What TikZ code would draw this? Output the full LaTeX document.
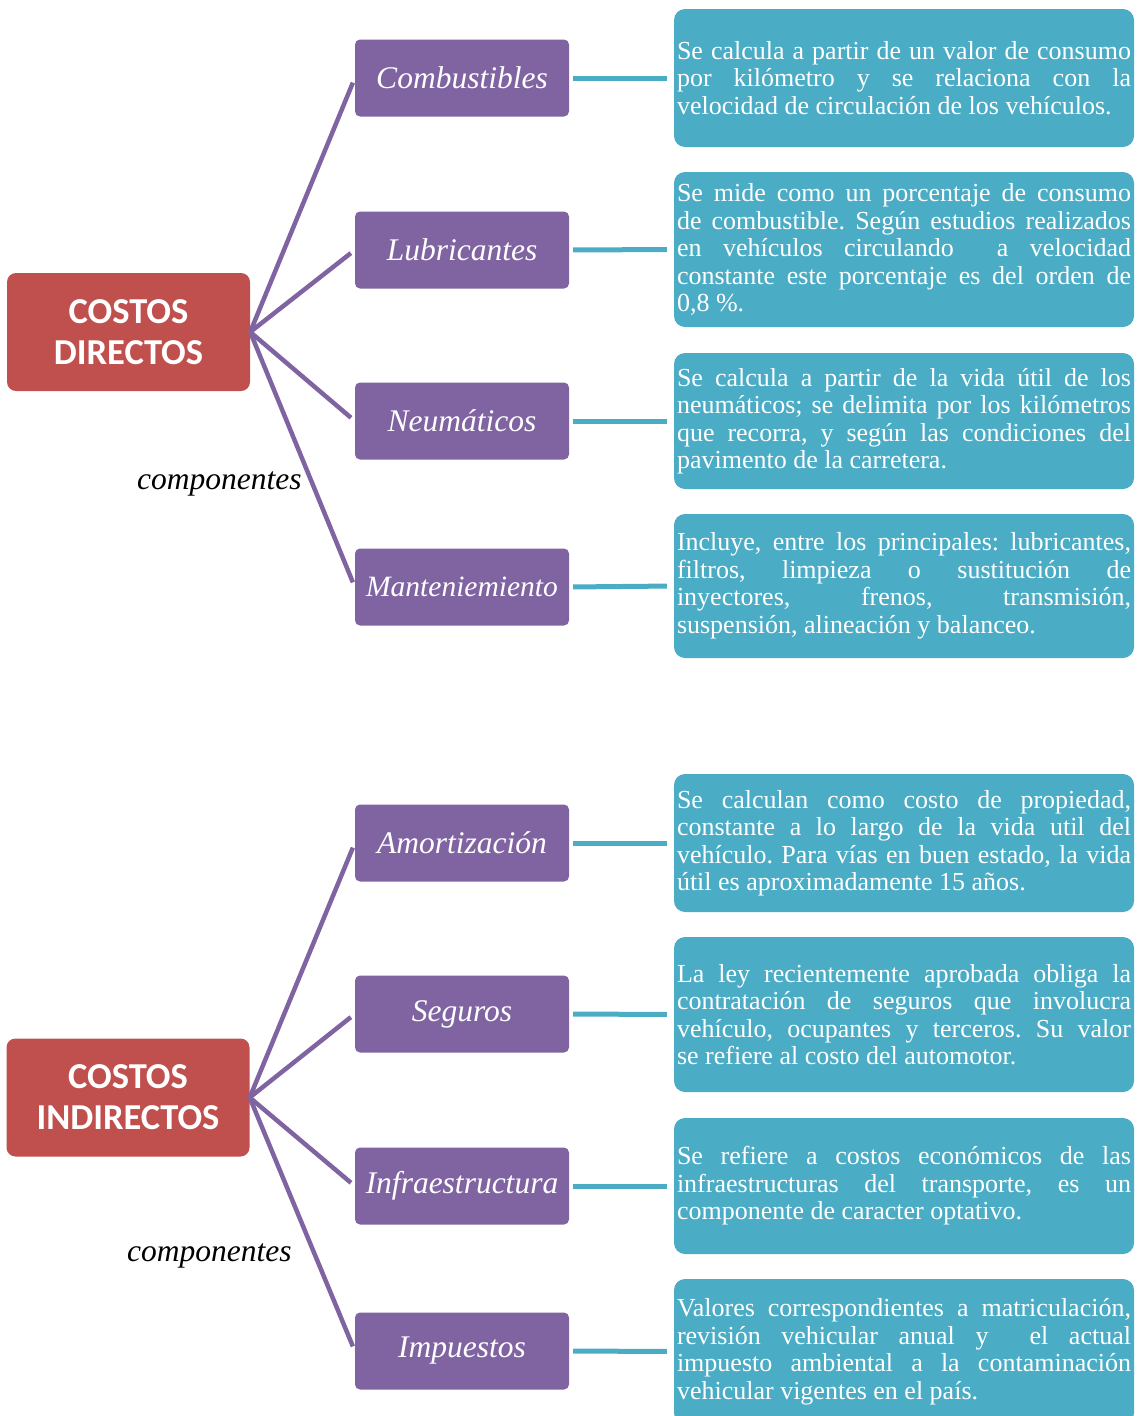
\documentclass[tikz,border=0pt]{standalone}
\usepackage{fontspec}
\setmainfont{Liberation Serif}
\newfontfamily\headfont{Carlito}
\frenchspacing

\definecolor{costred}{HTML}{C0504D}
\definecolor{comppurple}{HTML}{8064A2}
\definecolor{descteal}{HTML}{4BACC6}

\tikzset{
  costbox/.style={fill=costred, rounded corners=9pt, minimum width=243pt,
    minimum height=118pt, inner sep=0pt, text=white, align=center,
    font=\headfont\bfseries\fontsize{36.5}{41}\selectfont},
  compbox/.style={fill=comppurple, rounded corners=5pt, minimum width=214pt,
    minimum height=77pt, inner sep=0pt, text=white,
    font=\itshape\fontsize{31.5}{36}\selectfont},
  descbox/.style={fill=descteal, rounded corners=11pt, text width=454pt,
    inner xsep=3pt, inner ysep=0pt, text=white, align=justify,
    font=\fontsize{26}{27.5}\selectfont},
  fanline/.style={draw=comppurple, line width=4.5pt, shorten >=5pt},
  linkline/.style={draw=descteal, line width=5pt, shorten <=4pt, shorten >=7pt},
  complabel/.style={anchor=base west, inner sep=0pt,
    font=\itshape\fontsize{31.5}{36}\selectfont}
}

\begin{document}
\begin{tikzpicture}[x=1pt, y=-1pt]
\useasboundingbox (0,0) rectangle (1137,1416);
\clip (0,0) rectangle (1137,1416);

% ---------- direct costs ----------
\node[costbox] (dir) at (128.5,332) {COSTOS\\DIRECTOS};

\node[compbox] (c1) at (462,78)  {Combustibles};
\node[compbox] (c2) at (462,250) {Lubricantes};
\node[compbox] (c3) at (462,421) {Neumáticos};
\node[compbox, font=\itshape\fontsize{29.5}{36}\selectfont] (c4) at (462,587) {Manteniemiento};

\node[descbox, minimum height=138pt] (d1) at (904,78) {Se calcula a partir de un valor de consumo\linebreak
por kilómetro y se relaciona con la\linebreak
velocidad de circulación de los vehículos.};
\node[descbox, minimum height=155pt] (d2) at (904,249.5) {Se mide como un porcentaje de consumo\linebreak
de combustible. Según estudios realizados\linebreak
en vehículos circulando \ a velocidad\linebreak
constante este porcentaje es del orden de\linebreak
0,8~\%.};
\node[descbox, minimum height=136pt] (d3) at (904,421) {Se calcula a partir de la vida útil de los\linebreak
neumáticos; se delimita por los kilómetros\linebreak
que recorra, y según las condiciones del\linebreak
pavimento de la carretera.};
\node[descbox, minimum height=144pt] (d4) at (904,586) {Incluye, entre los principales: lubricantes,\linebreak
filtros, limpieza o sustitución de\linebreak
inyectores, frenos, transmisión,\linebreak
suspensión, alineación y balanceo.};

\node[complabel] (lab1) at (137,489) {componentes};

\foreach \c in {c1,c2,c3,c4} \draw[fanline] (dir.east) -- (\c.west);
\draw[linkline] (c1.east) -- (d1.west);
\draw[linkline] (c2.east) -- (d2.west);
\draw[linkline] (c3.east) -- (d3.west);
\draw[linkline] (c4.east) -- (d4.west);

% ---------- indirect costs ----------
\node[costbox] (ind) at (128,1097.5) {COSTOS\\INDIRECTOS};

\node[compbox] (c5) at (462,843)  {Amortización};
\node[compbox] (c6) at (462,1014) {Seguros};
\node[compbox] (c7) at (462,1186) {Infraestructura};
\node[compbox] (c8) at (462,1351) {Impuestos};

\node[descbox, minimum height=138pt] (d5) at (904,843) {Se calculan como costo de propiedad,\linebreak
constante a lo largo de la vida util del\linebreak
vehículo. Para vías en buen estado, la vida\linebreak
útil es aproximadamente 15 años.};
\node[descbox, minimum height=155pt] (d6) at (904,1014.5) {La ley recientemente aprobada obliga la\linebreak
contratación de seguros que involucra\linebreak
vehículo, ocupantes y terceros. Su valor\linebreak
se refiere al costo del automotor.};
\node[descbox, minimum height=136pt] (d7) at (904,1186) {Se refiere a costos económicos de las\linebreak
infraestructuras del transporte, es un\linebreak
componente de caracter optativo.};
\node[descbox, minimum height=145pt] (d8) at (904,1351.5) {Valores correspondientes a matriculación,\linebreak
revisión vehicular anual y \ el actual\linebreak
impuesto ambiental a la contaminación\linebreak
vehicular vigentes en el país.};

\node[complabel] (lab2) at (127,1261) {componentes};

\foreach \c in {c5,c6,c7,c8} \draw[fanline] (ind.east) -- (\c.west);
\draw[linkline] (c5.east) -- (d5.west);
\draw[linkline] (c6.east) -- (d6.west);
\draw[linkline] (c7.east) -- (d7.west);
\draw[linkline] (c8.east) -- (d8.west);
\end{tikzpicture}
\end{document}
